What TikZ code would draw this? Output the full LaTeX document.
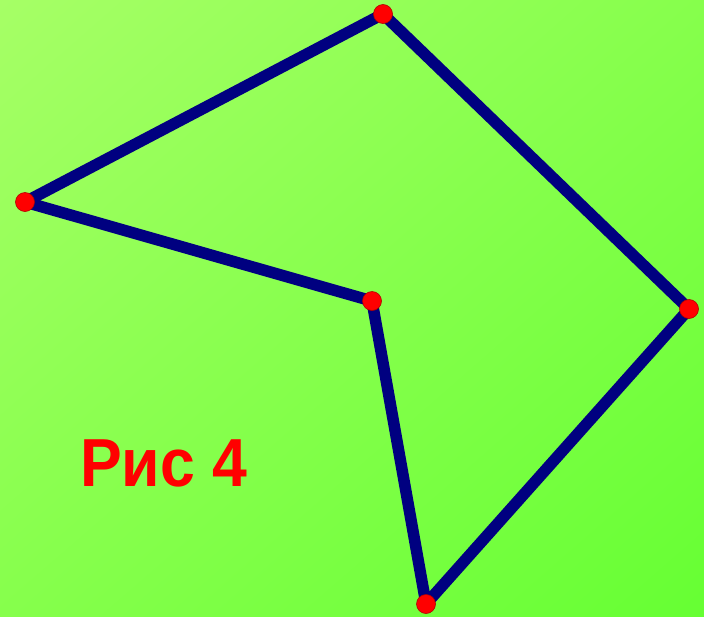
\documentclass[tikz,border=0pt]{standalone}
\usepackage{fontspec}
\newfontfamily\figfont{Liberation Sans}
\usepackage{tikz}
\usetikzlibrary{positioning, shadings}

\definecolor{bgtl}{HTML}{A6FF66}
\definecolor{bgbr}{HTML}{66FF33}
\definecolor{bgmid}{HTML}{86FF4C}
\definecolor{edgeblue}{HTML}{000080}
\definecolor{dotred}{HTML}{FF0000}

\tikzset{
    side/.style={draw=edgeblue, line width=11.5pt, line join=round, line cap=round},
    vert/.style={circle, fill=dotred, draw=red!70!black, line width=0.6pt, minimum size=19pt, inner sep=0pt}
}

\begin{document}
\begin{tikzpicture}[x=1pt, y=-1pt]

    % fond
    \shade[upper left=bgtl, lower right=bgbr, upper right=bgmid, lower left=bgmid] (0,0) rectangle (704,616);
    \useasboundingbox (0,0) rectangle (704,616);

    \coordinate (t) at (383,14);
    \coordinate (l) at (25,202);
    \coordinate (m) at (372,301);
    \coordinate (b) at (426,604);
    \coordinate (r) at (689,309);

    \draw[side] (t) -- (l) -- (m) -- (b) -- (r) -- cycle;

    \foreach \p in {t,l,m,b,r}
        \node[vert] (v\p) at (\p) {};

    % etichetta
    \node[anchor=base west, inner sep=0pt, text=dotred, font=\figfont\bfseries\fontsize{68}{68}\selectfont] (lab) at (80,486) {\scalebox{0.92}[1]{Рис 4}};

\end{tikzpicture}
\end{document}
